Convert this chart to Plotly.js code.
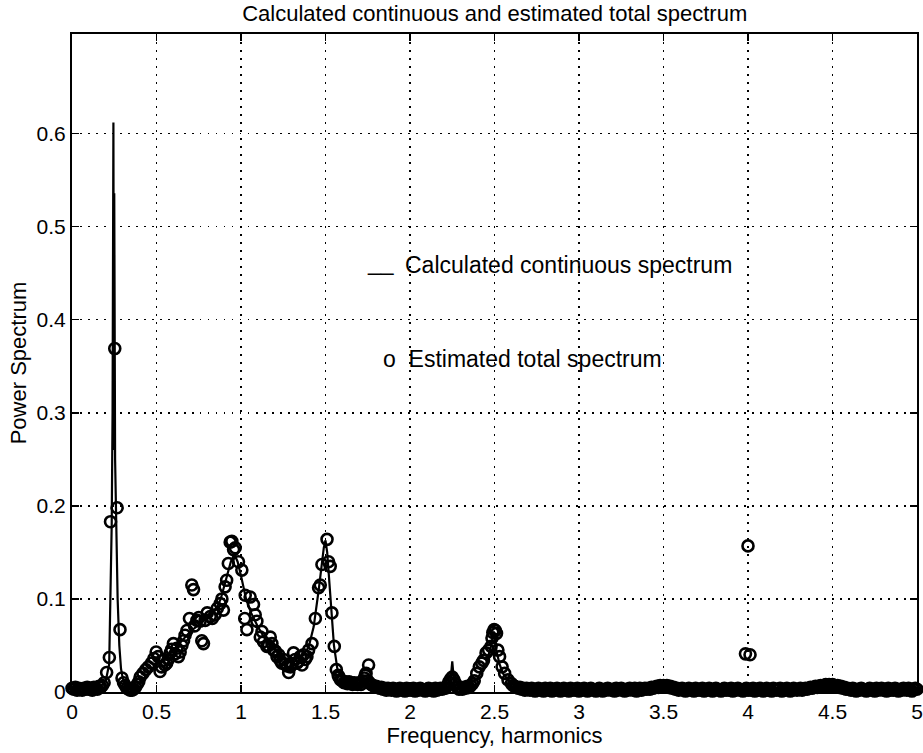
<!DOCTYPE html>
<html>
<head>
<meta charset="utf-8">
<script src="https://cdn.plot.ly/plotly-3.0.1.min.js"></script>
<style>html,body{margin:0;padding:0;background:#fff}#chart{width:923px;height:753px}</style>
</head>
<body>
<div id="chart"></div>
<script>
// Calculated continuous spectrum (solid line)
var lineFreq = [0,0.05,0.1,0.15,0.18,0.2,0.22,0.235,0.24,0.245,0.248,0.25,0.255,0.26,0.27,0.28,0.29,0.3,0.32,0.35,0.4,0.45,0.5,0.55,0.6,0.65,0.7,0.75,0.8,0.85,0.88,0.91,0.94,0.96,0.98,1.0,1.03,1.06,1.1,1.15,1.2,1.25,1.3,1.35,1.4,1.43,1.46,1.49,1.5,1.51,1.53,1.55,1.57,1.6,1.65,1.7,1.75,1.8,1.9,2.0,2.1,2.2,2.24,2.25,2.26,2.3,2.35,2.4,2.45,2.48,2.495,2.51,2.53,2.55,2.6,2.7,3.0,3.4,3.5,3.6,4.0,4.4,4.5,4.6,5.0];
var linePower = [0.003,0.003,0.004,0.005,0.008,0.012,0.03,0.18,0.3,0.612,0.26,0.536,0.25,0.18,0.1,0.05,0.025,0.015,0.006,0.004,0.01,0.02,0.03,0.035,0.045,0.055,0.065,0.072,0.08,0.088,0.1,0.12,0.14,0.148,0.14,0.125,0.1,0.085,0.07,0.055,0.045,0.036,0.032,0.035,0.048,0.07,0.11,0.155,0.163,0.15,0.1,0.05,0.025,0.014,0.009,0.007,0.008,0.006,0.005,0.005,0.005,0.006,0.012,0.033,0.012,0.007,0.008,0.015,0.03,0.05,0.065,0.045,0.03,0.02,0.009,0.005,0.004,0.005,0.01,0.005,0.004,0.005,0.011,0.005,0.004];

// Estimated total spectrum (open circles), low-frequency part 0 - 1.79
var estFreqLow = [0,0.01,0.02,0.03,0.04,0.05,0.06,0.07,0.08,0.09,0.1,0.11,0.12,0.13,0.14,0.15,0.16,0.17,0.18,0.19,
0.205,0.221,0.228,0.253,0.267,0.284,0.296,0.305,0.315,0.325,0.335,0.345,0.355,0.365,0.375,0.385,0.395,
0.403,0.42,0.437,0.452,0.47,0.485,0.498,0.51,0.521,0.53,
0.541,0.55,0.56,0.57,0.581,0.59,0.6,0.61,0.62,0.63,
0.64,0.65,0.66,0.669,0.68,0.695,0.709,0.719,0.725,0.739,
0.75,0.758,0.768,0.778,0.788,0.8,0.818,0.83,0.847,0.86,
0.877,0.887,0.896,0.906,0.915,0.925,0.936,0.946,0.956,0.966,
0.985,1.005,1.022,1.025,1.035,1.054,1.074,1.084,1.094,1.114,
1.124,1.133,1.153,1.163,1.173,1.183,1.193,1.203,1.213,1.223,
1.232,1.242,1.252,1.262,1.272,1.282,1.292,1.302,1.311,1.321,
1.331,1.341,1.351,1.361,1.37,1.38,1.39,1.4,1.42,1.44,
1.459,1.469,1.479,1.509,1.518,1.528,1.538,1.552,1.564,1.575,
1.58,1.59,1.6,1.61,1.62,1.63,1.64,1.65,1.66,1.67,1.68,1.69,1.7,1.71,1.72,1.73,1.74,1.75,1.76,1.77,1.78,1.79,
1.736,1.755];
var estPowerLow = [0.004,0.003,0.005,0.002,0.004,0.003,0.002,0.004,0.003,0.005,0.003,0.004,0.002,0.005,0.004,0.003,0.006,0.005,0.007,0.01,
0.021,0.037,0.183,0.369,0.198,0.067,0.015,0.01,0.007,0.004,0.003,0.002,0.002,0.003,0.005,0.008,0.011,
0.016,0.02,0.024,0.027,0.031,0.036,0.043,0.038,0.022,0.027,
0.034,0.029,0.031,0.035,0.042,0.046,0.052,0.041,0.047,0.038,
0.043,0.05,0.055,0.061,0.066,0.079,0.115,0.11,0.071,0.077,
0.08,0.076,0.055,0.052,0.077,0.085,0.081,0.079,0.083,0.09,
0.095,0.1,0.088,0.113,0.12,0.138,0.161,0.162,0.153,0.155,
0.14,0.131,0.079,0.104,0.067,0.102,0.094,0.083,0.076,0.059,
0.065,0.054,0.049,0.05,0.059,0.052,0.045,0.044,0.038,0.04,
0.034,0.031,0.035,0.03,0.028,0.021,0.027,0.03,0.042,0.035,
0.031,0.033,0.038,0.029,0.04,0.035,0.038,0.045,0.052,0.079,
0.112,0.115,0.137,0.164,0.14,0.135,0.085,0.049,0.024,0.018,
0.016,0.013,0.012,0.01,0.011,0.009,0.011,0.01,0.008,0.01,0.009,0.008,0.01,0.008,0.012,0.015,0.02,0.012,0.01,0.008,0.007,0.006,
0.018,0.029];

// middle part 1.80 - 2.60
var estFreqMid = [1.8,1.81,1.82,1.83,1.84,1.85,1.86,1.87,1.88,1.89,
1.9,1.91,1.92,1.93,1.94,1.95,1.96,1.97,1.98,1.99,
2.0,2.01,2.02,2.03,2.04,2.05,2.06,2.07,2.08,2.09,
2.1,2.11,2.12,2.13,2.14,2.15,2.16,2.17,2.18,2.19,2.2,
2.21,2.22,2.23,2.24,2.25,2.26,2.27,2.28,2.29,2.3,2.31,2.32,2.33,2.34,2.35,2.36,2.37,2.38,
2.395,2.41,2.425,2.435,2.45,2.465,2.48,2.485,2.49,2.498,2.505,2.512,2.52,2.53,2.545,2.56,2.58,2.6];
var estPowerMid = [0.006,0.005,0.004,0.005,0.003,0.004,0.002,0.004,0.003,0.002,
0.004,0.003,0.001,0.003,0.004,0.002,0.003,0.001,0.004,0.002,
0.003,0.002,0.004,0.001,0.003,0.002,0.004,0.003,0.002,0.001,
0.003,0.004,0.002,0.003,0.001,0.004,0.002,0.003,0.004,0.003,0.004,
0.004,0.007,0.011,0.014,0.016,0.013,0.009,0.005,0.003,0.004,0.003,0.005,0.004,0.006,0.005,0.007,0.009,0.012,
0.02,0.027,0.031,0.034,0.042,0.045,0.049,0.058,0.064,0.067,0.066,0.063,0.045,0.038,0.027,0.02,0.013,0.009];

// high part 2.61 - 5.00
var estFreqHigh = [2.61,2.62,2.63,2.64,2.65,2.66,2.67,2.68,2.69,2.7,
2.71,2.72,2.73,2.74,2.75,2.76,2.77,2.78,2.79,2.8,
2.81,2.82,2.83,2.84,2.85,2.86,2.87,2.88,2.89,2.9,
2.91,2.92,2.93,2.94,2.95,2.96,2.97,2.98,2.99,3.0,
3.01,3.02,3.03,3.04,3.05,3.06,3.07,3.08,3.09,3.1,
3.11,3.12,3.13,3.14,3.15,3.16,3.17,3.18,3.19,3.2,
3.21,3.22,3.23,3.24,3.25,3.26,3.27,3.28,3.29,3.3,
3.31,3.32,3.33,3.34,3.35,3.36,3.37,3.38,3.39,3.4,
3.41,3.42,3.43,3.44,3.45,3.46,3.47,3.48,3.49,3.5,
3.51,3.52,3.53,3.54,3.55,3.56,3.57,3.58,3.59,3.6,
3.61,3.62,3.63,3.64,3.65,3.66,3.67,3.68,3.69,3.7,
3.71,3.72,3.73,3.74,3.75,3.76,3.77,3.78,3.79,3.8,
3.81,3.82,3.83,3.84,3.85,3.86,3.87,3.88,3.89,3.9,
3.91,3.92,3.93,3.94,3.95,3.96,3.97,3.98,3.99,4.0,
4.01,4.02,4.03,4.04,4.05,4.06,4.07,4.08,4.09,4.1,
4.11,4.12,4.13,4.14,4.15,4.16,4.17,4.18,4.19,4.2,
4.21,4.22,4.23,4.24,4.25,4.26,4.27,4.28,4.29,4.3,
4.31,4.32,4.33,4.34,4.35,4.36,4.37,4.38,4.39,4.4,
4.41,4.42,4.43,4.44,4.45,4.46,4.47,4.48,4.49,4.5,
4.51,4.52,4.53,4.54,4.55,4.56,4.57,4.58,4.59,4.6,
4.61,4.62,4.63,4.64,4.65,4.66,4.67,4.68,4.69,4.7,
4.71,4.72,4.73,4.74,4.75,4.76,4.77,4.78,4.79,4.8,
4.81,4.82,4.83,4.84,4.85,4.86,4.87,4.88,4.89,4.9,
4.91,4.92,4.93,4.94,4.95,4.96,4.97,4.98,4.99,5.0];
var estPowerHigh = [0.007,0.006,0.005,0.004,0.005,0.003,0.004,0.002,0.004,0.003,
0.002,0.004,0.003,0.001,0.003,0.004,0.002,0.003,0.001,0.004,
0.003,0.002,0.004,0.001,0.003,0.002,0.004,0.003,0.001,0.002,
0.004,0.002,0.003,0.001,0.004,0.002,0.003,0.002,0.004,0.001,
0.003,0.002,0.004,0.003,0.001,0.002,0.004,0.003,0.002,0.001,
0.003,0.004,0.002,0.001,0.003,0.002,0.004,0.003,0.002,0.003,
0.001,0.004,0.002,0.003,0.004,0.002,0.001,0.003,0.002,0.004,
0.003,0.002,0.004,0.001,0.003,0.004,0.002,0.003,0.004,0.003,
0.004,0.003,0.005,0.004,0.005,0.006,0.005,0.007,0.006,0.007,
0.006,0.007,0.005,0.006,0.004,0.005,0.003,0.004,0.002,0.003,
0.004,0.002,0.001,0.003,0.004,0.002,0.003,0.001,0.004,0.002,
0.003,0.002,0.004,0.001,0.003,0.002,0.004,0.003,0.001,0.002,
0.004,0.003,0.002,0.001,0.003,0.004,0.002,0.003,0.002,0.004,
0.001,0.003,0.002,0.004,0.003,0.002,0.001,0.003,0.004,0.002,
0.003,0.002,0.004,0.001,0.003,0.002,0.004,0.003,0.001,0.002,
0.004,0.002,0.003,0.001,0.004,0.003,0.002,0.003,0.004,0.001,
0.003,0.002,0.004,0.003,0.001,0.002,0.004,0.003,0.002,0.003,
0.004,0.002,0.003,0.004,0.003,0.004,0.005,0.004,0.005,0.006,
0.005,0.006,0.007,0.006,0.007,0.008,0.007,0.008,0.007,0.008,
0.007,0.006,0.007,0.005,0.006,0.004,0.005,0.003,0.004,0.003,
0.002,0.004,0.003,0.001,0.003,0.002,0.004,0.003,0.002,0.001,
0.003,0.004,0.002,0.003,0.001,0.004,0.002,0.003,0.004,0.002,
0.003,0.001,0.004,0.002,0.003,0.002,0.004,0.003,0.001,0.003,
0.002,0.004,0.003,0.002,0.004,0.003,0.001,0.003,0.004,0.003];

// isolated points near 4 harmonics
var estFreqOut = [3.985,4.0,4.012];
var estPowerOut = [0.041,0.157,0.04];

var xTicks = [0,0.5,1,1.5,2,2.5,3,3.5,4,4.5,5];
var xTickText = ['0','0.5','1','1.5','2','2.5','3','3.5','4','4.5','5'];
var yTicks = [0,0.1,0.2,0.3,0.4,0.5,0.6];
var yTickText = ['0','0.1','0.2','0.3','0.4','0.5','0.6'];

var titleText = 'Calculated continuous and estimated total spectrum';
var xTitle = 'Frequency, harmonics';
var yTitle = 'Power Spectrum';
var legendDash = '__';
var legendLineText = 'Calculated continuous spectrum';
var legendMarkText = 'o  Estimated total spectrum';

var estFreq = estFreqLow.concat(estFreqMid, estFreqHigh, estFreqOut);
var estPower = estPowerLow.concat(estPowerMid, estPowerHigh, estPowerOut);

var FONT = '"Liberation Sans", Arial, Helvetica, sans-serif';

var traces = [
  {x: lineFreq, y: linePower, type: 'scatter', mode: 'lines',
   line: {color: '#000', width: 2.2}, cliponaxis: false, hoverinfo: 'skip'},
  {x: estFreq, y: estPower, type: 'scatter', mode: 'markers',
   marker: {symbol: 'circle-open', size: 11, color: '#000', line: {color: '#000', width: 2.6}},
   cliponaxis: false, hoverinfo: 'skip'}
];

var axisCommon = {
  showline: true, linecolor: '#000', linewidth: 2, mirror: 'ticks',
  ticks: 'inside', ticklen: 7, tickwidth: 1.5, tickcolor: '#000',
  showgrid: true, gridcolor: '#000', gridwidth: 1.5, griddash: '1.5px,6.5px',
  zeroline: false, automargin: false,
  tickfont: {family: FONT, size: 21, color: '#000'}
};

var layout = {
  width: 923, height: 753,
  margin: {l: 72, r: 6, t: 34, b: 61},
  paper_bgcolor: '#fff', plot_bgcolor: '#fff',
  showlegend: false,
  font: {family: FONT, color: '#000'},
  title: {text: titleText, font: {family: FONT, size: 22, color: '#000'},
          x: 0.536, xanchor: 'center', y: 0.982, yanchor: 'middle', yref: 'container'},
  xaxis: Object.assign({}, axisCommon, {
    range: [0, 5], tickvals: xTicks, ticktext: xTickText,
    title: {text: xTitle, font: {family: FONT, size: 22, color: '#000'}, standoff: 0}
  }),
  yaxis: Object.assign({}, axisCommon, {
    range: [0, 0.707], tickvals: yTicks, ticktext: yTickText,
    title: {text: yTitle, font: {family: FONT, size: 22, color: '#000'}, standoff: 4}
  }),
  annotations: [
    {x: 1.736, y: 0.462, xref: 'x', yref: 'y', text: legendDash, showarrow: false,
     xanchor: 'left', yanchor: 'middle', font: {family: FONT, size: 23, color: '#000'}},
    {x: 1.961, y: 0.459, xref: 'x', yref: 'y', text: legendLineText, showarrow: false,
     xanchor: 'left', yanchor: 'middle', font: {family: FONT, size: 23, color: '#000'}},
    {x: 1.83, y: 0.358, xref: 'x', yref: 'y', text: legendMarkText, showarrow: false,
     xanchor: 'left', yanchor: 'middle', font: {family: FONT, size: 23, color: '#000'}}
  ]
};

Plotly.newPlot('chart', traces, layout, {staticPlot: true, displayModeBar: false});
</script>
</body>
</html>
